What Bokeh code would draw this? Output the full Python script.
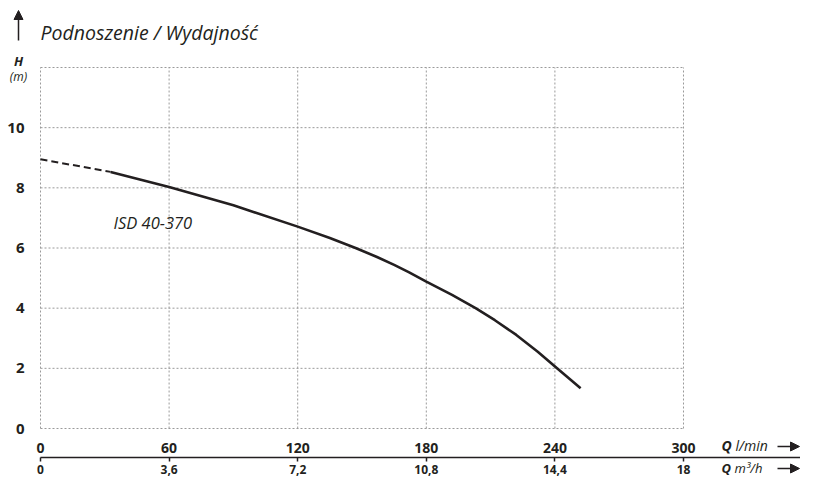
from bokeh.plotting import figure
from bokeh.models import (Range1d, LinearAxis, FixedTicker, Arrow, NormalHead)
from bokeh.core.properties import value
from bokeh.embed import file_html
from bokeh.resources import INLINE

# ---- data ----
q_dashed = [0, 32.7]
h_dashed = [8.95, 8.53]
q_solid = [32.7, 60, 90, 120, 135, 147, 157, 165, 172, 180, 192, 203, 212, 222, 232, 241, 252]
h_solid = [8.53, 8.03, 7.42, 6.71, 6.33, 6.0, 5.70, 5.44, 5.19, 4.88, 4.44, 4.0, 3.6, 3.11, 2.55, 2.0, 1.34]
curve_name = "ISD 40-370"

lmin_ticks = [0, 60, 120, 180, 240, 300]
m3h_ticks = [0, 3.6, 7.2, 10.8, 14.4, 18]
m3h_labels = ["0", "3,6", "7,2", "10,8", "14,4", "18"]
h_ticks = [0, 2, 4, 6, 8, 10, 12]
h_labels = ["0", "2", "4", "6", "8", "10", ""]
q_max = 300
h_max = 12
lmin_to_m3h = 18 / 300

title_text = "Podnoszenie / Wydajność"
INK = "#231f20"
GRID = "#9a9a9a"
FONT = "Open Sans"

# ---- geometry (pixels of the 800x478 canvas) ----
W, H = 800, 478
X0_PX, X1_PX = 40, 683      # where Q=0 and Q=300 fall
Y0_PX, Y1_PX = 428, 67      # where H=0 and H=12 fall (from top)
kx = (X1_PX - X0_PX) / q_max
ky = (Y0_PX - Y1_PX) / h_max
xs, xe = -X0_PX / kx, (W - X0_PX) / kx
ys, ye = -(H - Y0_PX) / ky, Y0_PX / ky

def qx(px):   # pixel helper for placing texts
    return (px - X0_PX) / kx

def hy(py):
    return (Y0_PX - py) / ky

p = figure(width=W, height=H, output_backend="svg", toolbar_location=None,
           title_location=None,
           x_range=Range1d(xs, xe), y_range=Range1d(ys, ye),
           x_axis_type=None, y_axis_type=None,
           min_border=0)
p.outline_line_color = None
p.background_fill_color = "white"
p.border_fill_color = "white"

# dotted grid over the chart area
p.segment(x0=lmin_ticks, y0=[0] * len(lmin_ticks), x1=lmin_ticks, y1=[h_max] * len(lmin_ticks),
          line_color=GRID, line_dash="2 2", line_width=1)
p.segment(x0=[0] * len(h_ticks), y0=h_ticks, x1=[q_max] * len(h_ticks), y1=h_ticks,
          line_color=GRID, line_dash="2 2", line_width=1)

# primary x axis (l/min)
ax1 = LinearAxis(ticker=FixedTicker(ticks=lmin_ticks), fixed_location=0, bounds=(0, q_max))
ax1.axis_line_color = None
ax1.major_tick_line_color = None
ax1.major_tick_out = 0
ax1.major_tick_in = 0
ax1.minor_tick_line_color = None
ax1.major_label_standoff = 14
ax1.major_label_text_font = FONT
ax1.major_label_text_font_style = "bold"
ax1.major_label_text_font_size = "14px"
ax1.major_label_text_color = INK
p.add_layout(ax1, "below")

# secondary x axis (m3/h)
p.extra_x_ranges = {"m3h": Range1d(xs * lmin_to_m3h, xe * lmin_to_m3h)}
ax2 = LinearAxis(x_range_name="m3h", ticker=FixedTicker(ticks=m3h_ticks),
                 fixed_location=hy(457), bounds=(0, qx(W) * lmin_to_m3h))
ax2.major_label_overrides = {t: s for t, s in zip(m3h_ticks, m3h_labels)}
ax2.axis_line_color = INK
ax2.axis_line_width = 1.5
ax2.major_tick_line_color = INK
ax2.major_tick_line_width = 1.5
ax2.major_tick_in = 0
ax2.major_tick_out = 4
ax2.minor_tick_line_color = None
ax2.major_label_standoff = 3
ax2.major_label_text_font = FONT
ax2.major_label_text_font_style = "bold"
ax2.major_label_text_font_size = "12px"
ax2.major_label_text_color = INK
p.add_layout(ax2, "below")

# y axis
ay = LinearAxis(ticker=FixedTicker(ticks=h_ticks), fixed_location=0, bounds=(0, h_max))
ay.major_label_overrides = {t: s for t, s in zip(h_ticks, h_labels)}
ay.axis_line_color = None
ay.major_tick_line_color = None
ay.major_tick_out = 0
ay.major_tick_in = 0
ay.minor_tick_line_color = None
ay.major_label_standoff = 16
ay.major_label_text_font = FONT
ay.major_label_text_font_style = "bold"
ay.major_label_text_font_size = "15px"
ay.major_label_text_color = INK
p.add_layout(ay, "left")

# curve
p.line(q_dashed, h_dashed, line_color=INK, line_width=2, line_dash="7 4")
p.line(q_solid, h_solid, line_color=INK, line_width=2.6, line_join="round")

def txt(x, y, t, style="italic", size="14px", align="left"):
    p.text(x=[x], y=[y], text=[t], text_font=value(FONT), text_font_style=style,
           text_font_size=size, text_color=INK, text_align=align, text_baseline="middle")

txt(qx(113), hy(222), curve_name, size="16.5px")
txt(qx(40), hy(32), title_text, size="19.5px")
txt(qx(18), hy(60), "H", style="bold italic", size="13px", align="center")
txt(qx(18), hy(76), "(m)", size="12px", align="center")
txt(qx(721), hy(445), "Q", style="bold italic", size="14px")
txt(qx(735), hy(445), "l/min", size="14px")
txt(qx(721), hy(467), "Q", style="bold italic", size="13px")
txt(qx(734), hy(467), "m³/h", size="13px")

def arrow(x0, y0, x1, y1):
    p.add_layout(Arrow(x_start=x0, y_start=y0, x_end=x1, y_end=y1,
                       line_color=INK, line_width=1.5,
                       end=NormalHead(size=9, fill_color=INK, line_color=INK)))

arrow(qx(18), hy(40), qx(18), hy(10))
arrow(qx(777), hy(446), qx(799), hy(446))
arrow(qx(777), hy(468), qx(799), hy(468))

open("out.html", "w").write(file_html(p, INLINE))
